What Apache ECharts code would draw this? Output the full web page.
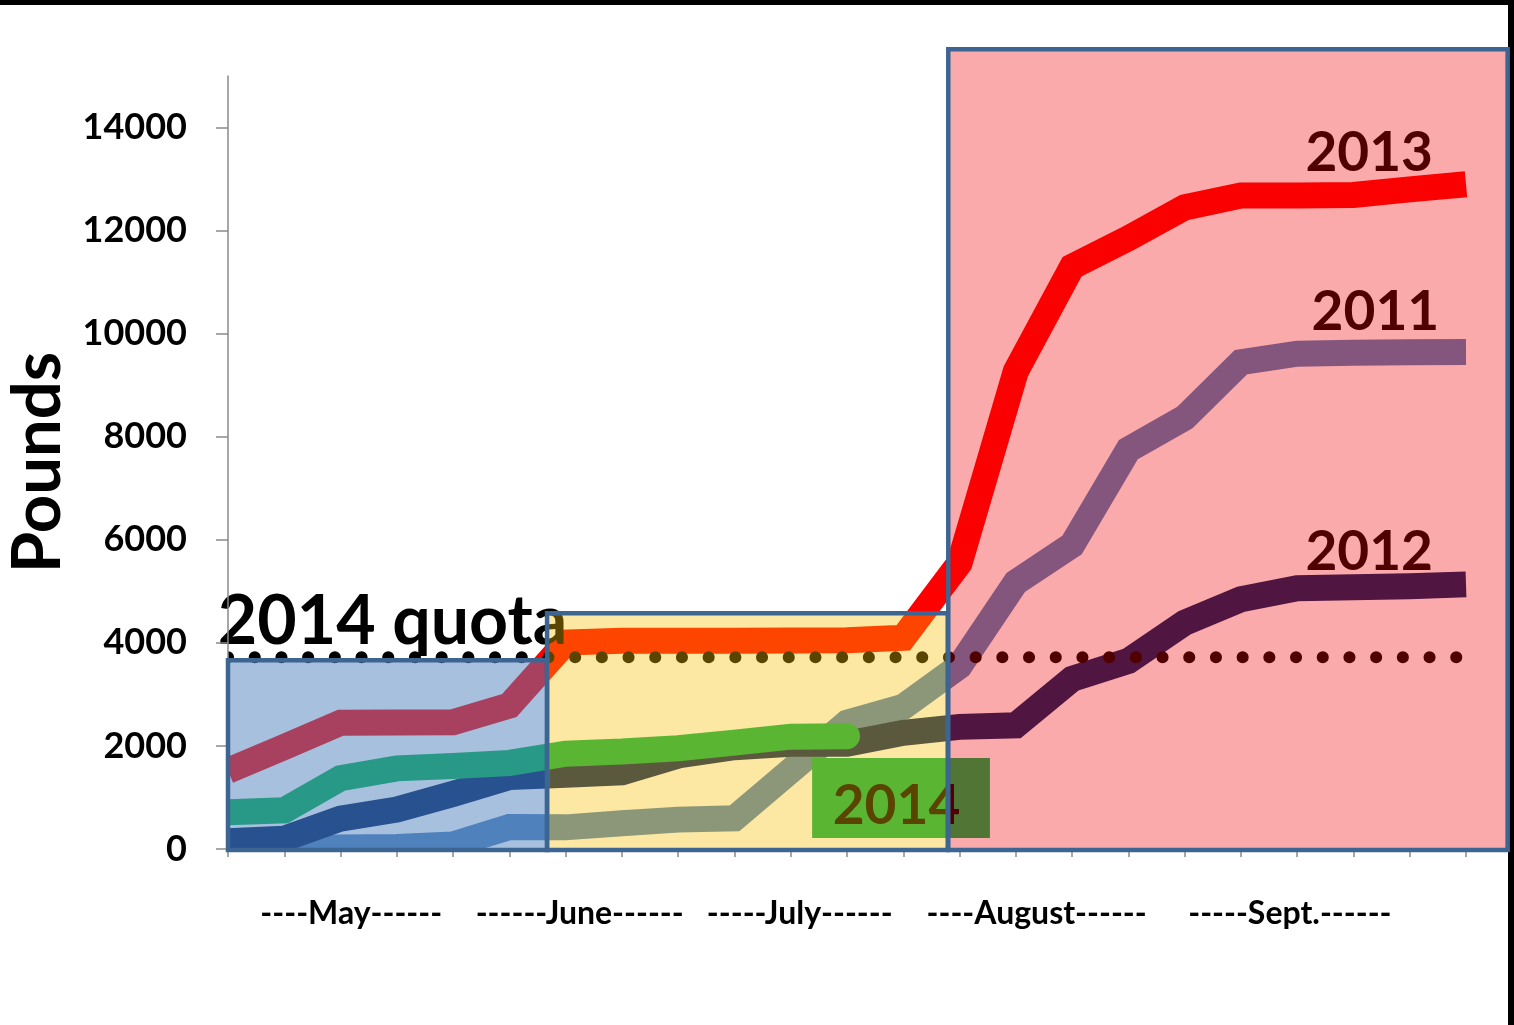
<!DOCTYPE html>
<html>
<head>
<meta charset="utf-8">
<title>Pounds by week</title>
<script src="https://cdn.jsdelivr.net/npm/echarts@6/dist/echarts.min.js"></script>
<style>
  html, body { margin: 0; padding: 0; background: #fff; }
  #wrap { position: relative; width: 1514px; height: 1025px; overflow: hidden; }
  #topband { position: absolute; left: 0; top: 0; width: 1514px; height: 5px; background: #000; }
  #rightband { position: absolute; right: 0; top: 0; width: 6px; height: 1025px; background: #000; }
  #chart { position: absolute; left: 0; top: 0; width: 1514px; height: 1025px; }
</style>
</head>
<body>
<div id="wrap">
  <div id="topband"></div>
  <div id="rightband"></div>
  <div id="chart"></div>
</div>
<script>
// weekly points, May through Sept.
var weeks = [0, 1, 2, 3, 4, 5, 6, 7, 8, 9, 10, 11, 12, 13, 14, 15, 16, 17, 18, 19, 20, 21, 22];

var pounds2011 = [0, 0, 30, 40, 90, 425, 420, 500, 570, 595, 1520, 2450, 2760, 3550, 5175, 5900, 7750, 8370, 9445, 9610, 9630, 9640, 9645];
var pounds2012 = [150, 200, 590, 765, 1070, 1395, 1440, 1490, 1815, 1975, 2040, 2040, 2255, 2370, 2400, 3300, 3650, 4390, 4845, 5060, 5080, 5100, 5135];
var pounds2013 = [1520, 1980, 2450, 2455, 2460, 2785, 4005, 4040, 4040, 4040, 4045, 4050, 4100, 5550, 9270, 11300, 11850, 12450, 12680, 12680, 12690, 12800, 12900];
var pounds2014 = [715, 750, 1375, 1565, 1610, 1670, 1850, 1890, 1955, 2065, 2180, 2190];
var quota2014 = [3720, 3720, 3720, 3720, 3720, 3720, 3720, 3720, 3720, 3720, 3720, 3720, 3720, 3720, 3720, 3720, 3720, 3720, 3720, 3720, 3720, 3720, 3720];

var yTicks = [0, 2000, 4000, 6000, 8000, 10000, 12000, 14000];
var monthLabels = ['----May------', '------June------', '-----July------', '----August------', '-----Sept.------'];
var monthPos = [2.19, 6.25, 10.16, 14.37, 18.87];

// shaded periods [x from, x to, y from, y to], in week / pound units
var periods = [[0, 5.67, -20, 3663], [5.67, 12.79, -20, 4574], [12.8, 22.74, -20, 15520]];
var periodFill = ['rgba(79,129,189,0.5)', 'rgba(250,192,0,0.36)', 'rgba(240,0,0,0.333)'];

var boxes2014 = [[10.38, 13.54, 213, 1764]];

// white strips that trim the thick lines to the plot area
var trims = [[-0.35, 22.3, -900, 0], [-0.35, 0, 0, 15000]];

var noteText = ['2013', '2011', '2012', '2014', '2014 quota'];
var notePos = [[20.28, 13510], [20.39, 10413], [20.28, 5762], [11.88, 820], [-0.18, 4400]];

var FONT = 'Lato, "Open Sans", sans-serif';

function pairs(vals) {
  return vals.map(function (v, i) { return [weeks[i], v]; });
}

function lineSeries(name, vals, color, extra) {
  var s = {
    name: name,
    type: 'line',
    data: pairs(vals),
    showSymbol: false,
    clip: true,
    lineStyle: { color: color, width: 26, join: 'miter' },
    z: 2
  };
  for (var k in extra) s[k] = extra[k];
  return s;
}

function rectFrom(api) {
  var a = api.coord([api.value(0), api.value(3)]);
  var b = api.coord([api.value(1), api.value(2)]);
  return { x: a[0], y: a[1], width: b[0] - a[0], height: b[1] - a[1] };
}

var chart = echarts.init(document.getElementById('chart'), null, { renderer: 'canvas' });

var axisGray = '#8a8a8a';

var option = {
  animation: false,
  backgroundColor: 'transparent',
  grid: { left: 228, right: 48, top: 76, bottom: 176, containLabel: false, outerBoundsMode: 'none' },
  xAxis: {
    type: 'value',
    min: 0,
    max: 22,
    interval: 1,
    z: 6,
    splitLine: { show: false },
    axisLine: { show: true, lineStyle: { color: axisGray, width: 1.5 } },
    axisTick: { show: true, length: 8, lineStyle: { color: axisGray, width: 1.5 } },
    axisLabel: {
      customValues: monthPos,
      margin: 49,
      color: '#000',
      fontFamily: FONT,
      fontWeight: 'bold',
      fontSize: 32,
      formatter: function (v) {
        var best = 0;
        for (var i = 1; i < monthPos.length; i++) {
          if (Math.abs(monthPos[i] - v) < Math.abs(monthPos[best] - v)) best = i;
        }
        return monthLabels[best];
      }
    }
  },
  yAxis: {
    type: 'value',
    min: 0,
    max: 15000,
    interval: 1000,
    z: 6,
    splitLine: { show: false },
    name: 'Pounds',
    nameLocation: 'middle',
    nameRotate: 90,
    nameGap: 131,
    nameTextStyle: { color: '#000', fontFamily: FONT, fontWeight: 'bold', fontSize: 67 },
    axisLine: { show: true, lineStyle: { color: axisGray, width: 1.5 } },
    axisTick: { show: true, length: 12, customValues: yTicks, lineStyle: { color: axisGray, width: 1.5 } },
    axisLabel: {
      customValues: yTicks,
      margin: 41,
      color: '#000',
      fontFamily: FONT,
      fontWeight: 'bold',
      fontSize: 36,
      formatter: function (v) { return String(v); }
    }
  },
  series: [
    lineSeries('2011', pounds2011, '#4F81BD'),
    lineSeries('2012', pounds2012, '#002060'),
    lineSeries('2013', pounds2013, '#FF0000'),
    lineSeries('2014', pounds2014, '#00B050', {
      lineStyle: { color: '#00B050', width: 26, join: 'miter', cap: 'round' }
    }),
    lineSeries('2014 quota', quota2014, '#000', {
      lineStyle: { color: '#000', width: 12, type: [0.1, 26.6], cap: 'round' }
    }),
    {
      name: 'trim',
      type: 'custom',
      data: trims,
      z: 3,
      silent: true,
      renderItem: function (params, api) {
        return { type: 'rect', shape: rectFrom(api), style: { fill: '#fff' } };
      }
    },
    {
      name: '2014 box',
      type: 'custom',
      data: boxes2014,
      z: 4,
      renderItem: function (params, api) {
        return { type: 'rect', shape: rectFrom(api), style: { fill: '#00B050' } };
      }
    },
    {
      name: 'notes',
      type: 'custom',
      data: notePos,
      z: 5,
      renderItem: function (params, api) {
        var p = api.coord([api.value(0), api.value(1)]);
        var last = params.dataIndex === noteText.length - 1;
        return {
          type: 'text',
          x: p[0],
          y: p[1],
          style: {
            text: noteText[params.dataIndex],
            fill: '#000',
            font: 'bold ' + (last ? 68 : 55) + 'px ' + FONT,
            align: last ? 'left' : 'center',
            verticalAlign: 'middle'
          }
        };
      }
    },
    {
      name: 'periods',
      type: 'custom',
      data: periods,
      z: 10,
      renderItem: function (params, api) {
        return {
          type: 'rect',
          shape: rectFrom(api),
          style: { fill: periodFill[params.dataIndex], stroke: '#3D6592', lineWidth: 4.5 }
        };
      }
    }
  ]
};

chart.setOption(option);
</script>
</body>
</html>
